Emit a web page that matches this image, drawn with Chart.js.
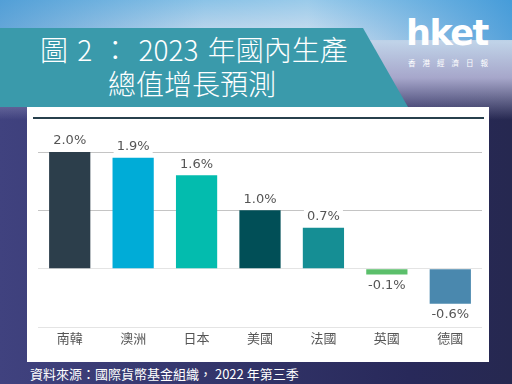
<!DOCTYPE html>
<html>
<head>
<meta charset="utf-8">
<script src="https://cdn.jsdelivr.net/npm/chart.js@4/dist/chart.umd.min.js"></script>
<style>
    html, body { margin: 0; padding: 0; }
    body { width: 512px; height: 384px; overflow: hidden; position: relative;
        font-family: "Noto Sans CJK TC", "DejaVu Sans", sans-serif;
        background: linear-gradient(to right, #40427f 0%, #34366c 40%, #28295a 80%, #262850 100%); }
    .sky { position: absolute; left: 0; top: 0; width: 512px; height: 120px;
        background: linear-gradient(to bottom, rgba(110,180,225,1) 0%, rgba(200,220,240,0.95) 35%, rgba(180,180,215,0.9) 65%, rgba(60,62,120,0) 100%); }
    .sky2 { position: absolute; left: 0; top: 0; width: 512px; height: 40px;
        background: linear-gradient(to right, rgba(70,150,210,0.7), rgba(255,255,255,0.2) 40%, rgba(255,255,255,0.3) 60%, rgba(60,150,215,0.8)); }
    .banner { position: absolute; left: 0; top: 28px; width: 410px; height: 79px; background: #3a9aab;
        clip-path: polygon(0 0, 363px 0, 408px 79px, 0 79px); }
    .title { position: absolute; color: #fff; font-size: 28px; font-weight: 300; line-height: 32px; white-space: nowrap; }
    .logo { position: absolute; left: 406px; top: 13px; color: #fff; font-family: "DejaVu Sans", sans-serif;
        font-weight: bold; font-size: 35px; letter-spacing: -1.5px; }
    .logo-sub { position: absolute; left: 408px; top: 57px; color: #fff; font-size: 7.5px; letter-spacing: 7px; }
    .panel { position: absolute; left: 27px; top: 107px; width: 462px; height: 255px; background: #fff; }
    .topline { position: absolute; left: 33px; top: 117px; width: 451px; height: 2px; background: #27404c; }
    #chart { position: absolute; left: 27px; top: 107px; }
    .footer { position: absolute; left: 30px; top: 365px; color: #fff; font-size: 13px; line-height: 18px; white-space: nowrap; }
</style>
</head>
<body>
<div class="sky"></div>
<div class="sky2"></div>
<div class="banner"></div>
<div class="title" style="left:40px; top:33px; word-spacing:3px;">圖 2 ： 2023 年國內生產</div>
<div class="title" style="left:108px; top:67px;">總值增長預測</div>
<div class="logo">hket</div>
<div class="logo-sub">香港經濟日報</div>
<div class="panel"></div>
<canvas id="chart" width="462" height="255"></canvas>
<div class="topline"></div>
<div class="footer">資料來源：國際貨幣基金組織， 2022 年第三季</div>

<script>
// Chart data
const countries = ['南韓', '澳洲', '日本', '美國', '法國', '英國', '德國'];
const growth = [2.0, 1.9, 1.6, 1.0, 0.7, -0.1, -0.6];
const barColors = ['#2c3e4b', '#00acd7', '#03bcae', '#014f57', '#158e94', '#5bbf6b', '#4a88ae'];
const axisTicks = [-1, 0, 1, 2];

// Value labels next to each bar, category names under the plot
const barLabels = {
    id: 'barLabels',
    afterDatasetsDraw: (chart) => {
        const ctx = chart.ctx;
        const meta = chart.getDatasetMeta(0);
        const xScale = chart.scales.x;
        ctx.save();
        ctx.textAlign = 'center';
        ctx.textBaseline = 'middle';
        ctx.font = '13px "DejaVu Sans", sans-serif';
        meta.data.forEach((bar, i) => {
            const v = growth[i];
            const text = v.toFixed(1) + '%';
            const y = v >= 0 ? bar.y - 11 : bar.y + 11;
            const w = ctx.measureText(text).width;
            ctx.fillStyle = '#fff';
            ctx.fillRect(bar.x - w / 2 - 3, y - 8, w + 6, 16);
            ctx.fillStyle = '#555';
            ctx.fillText(text, bar.x, y);
        });
        ctx.font = '13px "Noto Sans CJK TC", sans-serif';
        ctx.fillStyle = '#555';
        countries.forEach((name, i) => {
            ctx.fillText(name, xScale.getPixelForValue(i), chart.chartArea.bottom + 11);
        });
        ctx.restore();
    }
};

new Chart(document.getElementById('chart'), {
    type: 'bar',
    data: {
        labels: countries,
        datasets: [{
            data: growth,
            backgroundColor: barColors,
            barPercentage: 0.65,
            categoryPercentage: 1
        }]
    },
    options: {
        responsive: false,
        animation: false,
        layout: { padding: { left: 11, right: 7, top: 45, bottom: 27 } },
        plugins: { legend: { display: false }, tooltip: { enabled: false } },
        scales: {
            x: {
                grid: { display: false },
                border: { display: false },
                ticks: { display: false }
            },
            y: {
                min: -1,
                max: 2,
                afterBuildTicks: (axis) => { axis.ticks = axisTicks.map(v => ({ value: v })); },
                ticks: { display: false },
                border: { display: false },
                grid: {
                    drawTicks: false,
                    color: (c) => c.tick && c.tick.value > 0 ? '#c4c4c4' : '#e4e4e4'
                }
            }
        }
    },
    plugins: [barLabels]
});
</script>
</body>
</html>
